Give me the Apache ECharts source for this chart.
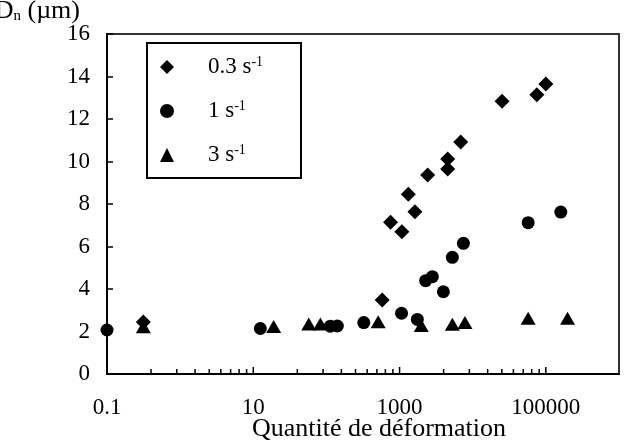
<!DOCTYPE html>
<html>
<head>
<meta charset="utf-8">
<script src="https://cdn.jsdelivr.net/npm/echarts@6/dist/echarts.min.js"></script>
<style>
  html, body { margin: 0; padding: 0; background: #fff; }
  #main { width: 634px; height: 441px; }
</style>
</head>
<body>
<div id="main"></div>
<script>
// valeurs
const x03 = [0.314, 579, 753, 1076, 1316, 1622, 2421, 4545, 4545, 6850, 25200, 75300, 100000];
const d03 = [2.45, 3.48, 7.14, 6.70, 8.46, 7.64, 9.36, 10.12, 9.65, 10.92, 12.83, 13.14, 13.65];

const x1 = [0.1, 12.5, 113, 141, 324, 1064, 1750, 2270, 2805, 3970, 5270, 7460, 57300, 160000];
const d1 = [2.07, 2.14, 2.25, 2.26, 2.42, 2.86, 2.57, 4.39, 4.58, 3.87, 5.49, 6.15, 7.12, 7.62];

const x3 = [0.314, 19.0, 57.3, 82.8, 510, 1980, 5270, 7830, 57300, 198000];
const d3 = [2.22, 2.23, 2.35, 2.35, 2.46, 2.28, 2.34, 2.42, 2.62, 2.62];

const seriesNames = ['0.3 s-1', '1 s-1', '3 s-1'];
const xTicks = [0.1, 10, 1000, 100000];
// graduations secondaires (échelle log base 100 comme Excel)
const minorFactors = [4, 9, 16, 25, 36, 49, 64, 81];
const yTicks = [0, 2, 4, 6, 8, 10, 12, 14, 16];

const zip = (xs, ys) => xs.map((x, i) => [x, ys[i]]);

let tickData = xTicks.map(v => [v, 1]);
xTicks.slice(0, 3).forEach(base => {
  minorFactors.forEach(f => tickData.push([base * f, 0]));
});

const FONT = 'Liberation Serif';
var myChart = echarts.init(document.getElementById('main'));

let options = {
  backgroundColor: '#fff',
  animation: false,
  textStyle: { fontFamily: FONT, color: '#000' },
  grid: {
    left: 107, right: 15, top: 34, bottom: 67,
    show: true, borderColor: '#333', borderWidth: 2,
    containLabel: false,
    outerBoundsMode: 'none'
  },
  legend: {
    data: seriesNames,
    orient: 'vertical',
    left: 155,
    top: 50,
    itemWidth: 14,
    itemHeight: 14,
    itemGap: 20,
    textStyle: {
      fontFamily: FONT, fontSize: 23, lineHeight: 24, color: '#000',
      rich: {
        gap: { width: 29 },
        sup: { fontSize: 14, verticalAlign: 'top', lineHeight: 14, fontFamily: FONT }
      }
    },
    formatter: function (name) {
      return '{gap|}' + name.replace(' s-1', '') + ' s{sup|-1}';
    }
  },
  graphic: [{
    type: 'rect',
    shape: { x: 147, y: 43, width: 154, height: 135 },
    style: { fill: 'none', stroke: '#000', lineWidth: 2 },
    z: 1
  }],
  xAxis: {
    type: 'log',
    logBase: 10,
    min: 0.1,
    max: 1000000,
    name: 'Quantité de déformation',
    nameLocation: 'middle',
    nameGap: 42,
    nameMoveOverlap: false,
    nameTextStyle: { fontFamily: FONT, fontSize: 26, color: '#000', padding: [0, 0, 0, 32] },
    axisLine: { lineStyle: { color: '#000', width: 2 } },
    axisTick: { show: false },
    minorTick: { show: false },
    splitLine: { show: false },
    axisLabel: {
      margin: 22,
      fontFamily: FONT, fontSize: 23, color: '#000',
      formatter: function (v) {
        let t = xTicks.find(t => Math.abs(Math.log10(v) - Math.log10(t)) < 1e-6);
        return t === undefined ? '' : String(t);
      }
    }
  },
  yAxis: {
    type: 'value',
    min: 0,
    max: 16,
    interval: 2,
    name: 'D{sub|n} (µm)',
    nameLocation: 'end',
    nameGap: 23,
    nameMoveOverlap: false,
    nameTextStyle: {
      fontFamily: FONT, fontSize: 26, color: '#000',
      align: 'right', verticalAlign: 'middle', padding: [0, 27, 0, 0],
      rich: { sub: { fontSize: 15, verticalAlign: 'bottom', fontFamily: FONT } }
    },
    axisLine: { show: true, lineStyle: { color: '#000', width: 2 } },
    axisTick: { show: true, inside: true, length: 6, lineStyle: { color: '#000', width: 1.5 } },
    splitLine: { show: false },
    axisLabel: {
      margin: 17, fontFamily: FONT, fontSize: 23, color: '#000',
      formatter: v => yTicks.includes(v) ? String(v) : ''
    }
  },
  series: [
    {
      name: seriesNames[0], type: 'scatter', symbol: 'diamond', symbolSize: 15,
      itemStyle: { color: '#000', opacity: 1 }, data: zip(x03, d03), z: 3
    },
    {
      name: seriesNames[1], type: 'scatter', symbol: 'circle', symbolSize: 13,
      itemStyle: { color: '#000', opacity: 1 }, data: zip(x1, d1), z: 3
    },
    {
      name: seriesNames[2], type: 'scatter', symbol: 'triangle', symbolSize: [15, 13],
      itemStyle: { color: '#000', opacity: 1 }, data: zip(x3, d3), z: 3
    },
    {
      // graduations de l'axe des x
      name: 'ticks', type: 'custom', silent: true, clip: false,
      data: tickData,
      renderItem: function (params, api) {
        let p = api.coord([api.value(0), 0]);
        let len = api.value(1) ? 7 : 5;
        return {
          type: 'line',
          shape: { x1: p[0], y1: p[1] - 1, x2: p[0], y2: p[1] - len },
          style: { stroke: '#000', lineWidth: 1.5 }
        };
      }
    }
  ]
};
myChart.setOption(options);
</script>
</body>
</html>
